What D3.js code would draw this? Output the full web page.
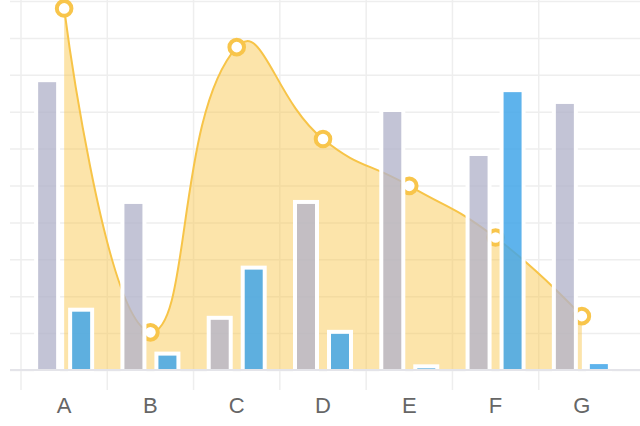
<!DOCTYPE html>
<html>
<head>
<meta charset="utf-8">
<script src="https://cdn.jsdelivr.net/npm/d3@7"></script>
<style>
	body { margin: 0; background: #ffffff; }
	svg { display: block; }
	.x-axis text { font-family: "Liberation Sans", Arial, sans-serif; font-size: 22px; fill: #666666; }
</style>
</head>
<body>
<div id="chart-area"></div>
<script>

// chart data (y values on a 0-100 scale)
let categories = ["A", "B", "C", "D", "E", "F", "G"];
let greyValues = [78.0, 45.0, 13.6, 45.0, 69.9, 58.0, 72.1];
let blueValues = [15.8, 3.9, 27.2, 9.8, 0.45, 75.3, 1.6];
let lineValues = [98.0, 10.2, 87.5, 62.6, 49.9, 35.9, 14.6];
let yTicks = [0, 10, 20, 30, 40, 50, 60, 70, 80, 90, 100];

let width = 640;
let height = 426;

let svg = d3.select("#chart-area").append("svg")
	.attr("width", width)
	.attr("height", height);

svg.append("rect")
	.attr("width", width)
	.attr("height", height)
	.attr("fill", "#ffffff");

// Scales
let x = d3.scaleBand()
	.domain(categories)
	.range([21, 625]);

let y = d3.scaleLinear()
	.domain([0, 100])
	.range([370, 1]);

// two bars per category, 18px wide, 16px apart
let inner = d3.scaleBand()
	.domain(["grey", "blue"])
	.range([-26, 26])
	.paddingInner(0.4706);

let cx = d => x(d) + x.bandwidth() / 2;

// horizontal grid lines (they run off the right edge)
let yAxis = d3.axisLeft(y)
	.tickValues(yTicks)
	.tickSize(-640)
	.tickFormat("");

svg.append("g")
	.attr("transform", "translate(10,0)")
	.call(yAxis)
	.call(g => g.select(".domain").remove())
	.call(g => g.selectAll(".tick line").attr("stroke", "#eeeeee").attr("stroke-width", 1.5));

// vertical split lines at the category boundaries, running down into the ticks
svg.append("g")
	.selectAll("line")
	.data(categories)
	.enter()
	.append("line")
	.attr("x1", d => x(d))
	.attr("x2", d => x(d))
	.attr("y1", 0)
	.attr("y2", 390)
	.attr("stroke", "#eeeeee")
	.attr("stroke-width", 1.5);

// smoothing the way the original chart lib does it (bezier, control points kept in the points' bounding box)
function smoothCurve(ctx, pts, smooth) {
	let lo = [d3.min(pts, p => p[0]), d3.min(pts, p => p[1])];
	let hi = [d3.max(pts, p => p[0]), d3.max(pts, p => p[1])];
	let clamp = p => [Math.max(lo[0], Math.min(hi[0], p[0])), Math.max(lo[1], Math.min(hi[1], p[1]))];

	let cp0 = pts[0].slice();
	ctx.moveTo(pts[0][0], pts[0][1]);
	for (let i = 1; i < pts.length; i++) {
		let p = pts[i], prev = pts[i - 1], next = pts[i + 1];
		let cp1, v = [0, 0], r = 0.5;
		if (!next) {
			cp1 = p.slice();
		} else {
			v = [next[0] - prev[0], next[1] - prev[1]];
			let lenPrev = Math.hypot(p[0] - prev[0], p[1] - prev[1]);
			let lenNext = Math.hypot(next[0] - p[0], next[1] - p[1]);
			r = lenNext / (lenNext + lenPrev);
			cp1 = [p[0] - v[0] * smooth * (1 - r), p[1] - v[1] * smooth * (1 - r)];
		}
		cp0 = clamp(cp0);
		cp1 = clamp(cp1);
		ctx.bezierCurveTo(cp0[0], cp0[1], cp1[0], cp1[1], p[0], p[1]);
		cp0 = [p[0] + v[0] * smooth * r, p[1] + v[1] * smooth * r];
	}
}

let points = categories.map((c, i) => [cx(c), y(lineValues[i])]);

// Area
let areaPath = d3.path();
smoothCurve(areaPath, points, 0.5);
areaPath.lineTo(points[points.length - 1][0], y(0));
areaPath.lineTo(points[0][0], y(0));
areaPath.closePath();

svg.append("path")
	.attr("d", areaPath.toString())
	.attr("fill", "#f8c54b")
	.attr("fill-opacity", 0.47);

// Line
let linePath = d3.path();
smoothCurve(linePath, points, 0.5);

svg.append("path")
	.attr("d", linePath.toString())
	.attr("fill", "none")
	.attr("stroke", "#f7c448")
	.attr("stroke-width", 2);

svg.append("g")
	.selectAll("circle")
	.data(lineValues)
	.enter()
	.append("circle")
	.attr("cx", (d, i) => cx(categories[i]))
	.attr("cy", d => y(d))
	.attr("r", 7.3)
	.attr("fill", "#ffffff")
	.attr("stroke", "#f8c54b")
	.attr("stroke-width", 4);

// Bars: half transparent fill, solid white border on top of everything below
let border = 4;
function drawBars(values, key, color, opacity) {
	svg.append("g")
		.selectAll("rect")
		.data(values)
		.enter()
		.append("rect")
		.attr("x", (d, i) => cx(categories[i]) + inner(key) - border / 2)
		.attr("y", d => y(d) - border / 2)
		.attr("width", inner.bandwidth() + border)
		.attr("height", d => y(0) - y(d) + border)
		.attr("fill", color)
		.attr("fill-opacity", opacity)
		.attr("stroke", "#ffffff")
		.attr("stroke-width", border);
}
drawBars(greyValues, "grey", "#b2b4cb", 0.78);
drawBars(blueValues, "blue", "#42a6e9", 0.85);

// x axis
svg.append("line")
	.attr("x1", 10)
	.attr("x2", 640)
	.attr("y1", y(0))
	.attr("y2", y(0))
	.attr("stroke", "#e4e4e9")
	.attr("stroke-width", 2);

let xAxis = d3.axisBottom(x)
	.tickSize(0)
	.tickPadding(27);

svg.append("g")
	.classed("x-axis", true)
	.attr("transform", "translate(0," + y(0) + ")")
	.call(xAxis)
	.call(g => g.select(".domain").remove());

</script>
</body>
</html>
